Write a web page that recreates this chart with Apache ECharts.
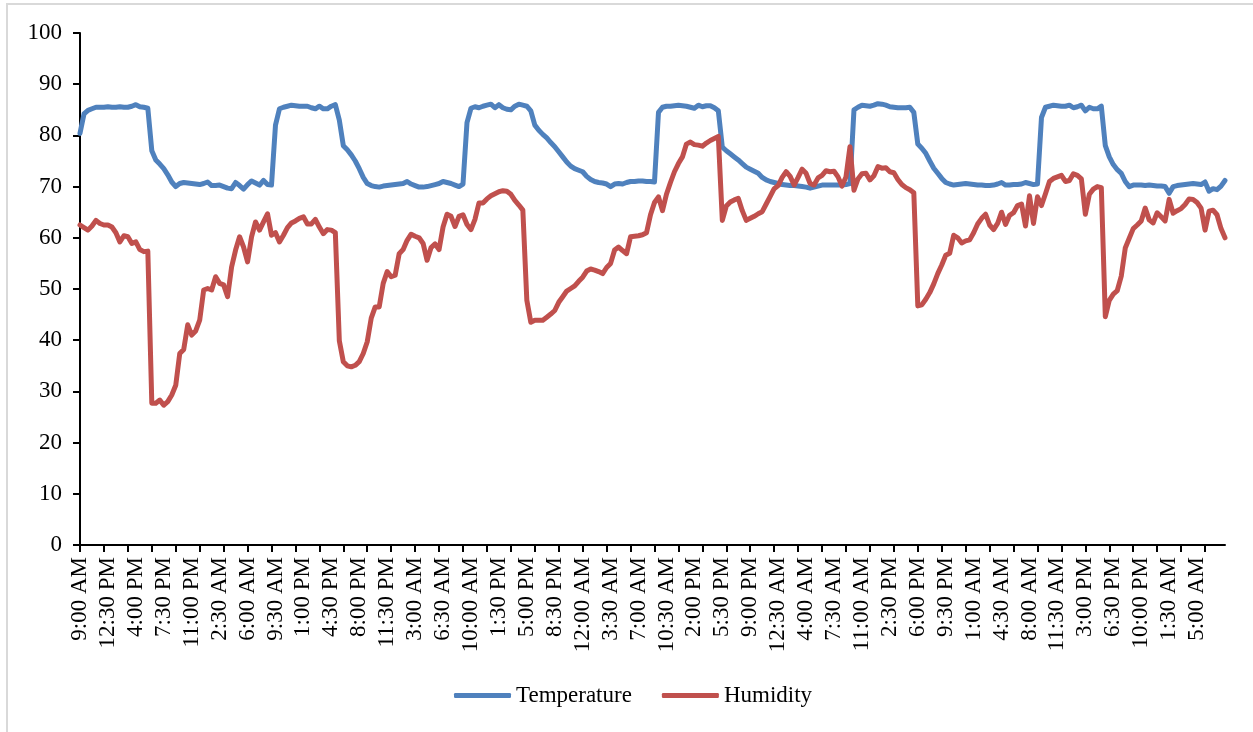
<!DOCTYPE html>
<html>
<head>
<meta charset="utf-8">
<script src="https://cdn.jsdelivr.net/npm/echarts@6/dist/echarts.min.js"></script>
<style>
  html, body { margin: 0; padding: 0; background: #ffffff; }
  #chart { width: 1253px; height: 732px; }
</style>
</head>
<body>
<div id="chart"></div>
<script>
// Half-hourly readings, starting 9:00 AM on day 1 (288 samples = 6 days).
const startMinutes = 9 * 60;
const stepMinutes = 30;

const temperature = [
  80.4, 84.2, 84.9, 85.2, 85.5, 85.5, 85.5, 85.6, 85.5, 85.5, 85.6, 85.5, 85.5, 85.7, 86.0, 85.6, 85.5, 85.3,
  77.0, 75.2, 74.4, 73.5, 72.3, 70.9, 70.0, 70.6, 70.8, 70.7, 70.6, 70.5, 70.4, 70.6, 70.9, 70.2, 70.2, 70.3,
  70.0, 69.7, 69.6, 70.8, 70.2, 69.5, 70.4, 71.1, 70.7, 70.3, 71.2, 70.4, 70.3,
  82.0, 85.2, 85.5, 85.7, 85.9, 85.8, 85.7, 85.7, 85.7, 85.4, 85.2, 85.7, 85.2, 85.2, 85.7, 86.0,
  83.0, 78.0, 77.2, 76.2, 75.0, 73.5, 71.8, 70.6, 70.2, 70.0, 69.9,
  70.1, 70.2, 70.3, 70.4, 70.5, 70.6, 71.0, 70.5, 70.2, 69.9, 69.9, 70.0, 70.2, 70.4, 70.6, 71.0, 70.8, 70.6,
  70.3, 70.0, 70.5,
  82.5, 85.3, 85.6, 85.4, 85.7, 85.9, 86.1, 85.4, 86.0, 85.4, 85.1, 85.0, 85.7, 86.1, 85.9, 85.7, 84.8, 82.0,
  81.0, 80.2, 79.5, 78.6, 77.8, 76.8, 75.8, 74.8, 74.0, 73.5, 73.2, 72.9, 72.0, 71.4, 71.0, 70.8, 70.7, 70.5,
  70.0, 70.5, 70.6, 70.5, 70.8, 71.0, 71.0, 71.1, 71.1, 71.0, 71.0, 70.9,
  84.5, 85.5, 85.7, 85.7, 85.8, 85.9, 85.8, 85.7, 85.5, 85.3, 85.9, 85.6, 85.8, 85.8, 85.4, 84.8,
  77.7, 77.0, 76.4, 75.8, 75.2, 74.5, 73.8, 73.4, 73.0, 72.6, 71.8, 71.3, 71.0, 70.8, 70.6, 70.4, 70.3, 70.2,
  70.2, 70.1, 70.0, 69.9, 69.7, 69.9, 70.1, 70.3, 70.3, 70.3, 70.3, 70.3, 70.3, 70.4, 70.6,
  85.0, 85.5, 85.9, 85.8, 85.7, 85.9, 86.2, 86.1, 85.9, 85.6, 85.5, 85.4, 85.4, 85.4, 85.5, 84.5,
  78.3, 77.5, 76.5, 75.0, 73.6, 72.6, 71.6, 70.8, 70.5, 70.3, 70.4, 70.5, 70.6, 70.5, 70.4, 70.3, 70.3, 70.2,
  70.2, 70.3, 70.5, 70.8, 70.3, 70.3, 70.4, 70.4, 70.5, 70.8, 70.6, 70.4, 70.5,
  83.5, 85.5, 85.7, 85.9, 85.8, 85.7, 85.7, 85.9, 85.4, 85.6, 85.9, 84.8, 85.5, 85.2, 85.2, 85.7,
  78.0, 75.8, 74.3, 73.3, 72.6, 71.0, 70.0, 70.3, 70.3, 70.3, 70.2, 70.3, 70.2, 70.1, 70.1, 70.0, 68.7, 70.0,
  70.2, 70.3, 70.4, 70.5, 70.6, 70.5, 70.4, 70.9, 69.1, 69.6, 69.4, 70.1, 71.2
];

const humidity = [
  62.5, 62.0, 61.5, 62.3, 63.4, 62.8, 62.5, 62.5, 62.1, 61.0, 59.2, 60.4, 60.2, 58.9, 59.2, 57.7, 57.3, 57.4,
  27.7, 27.7, 28.3, 27.3, 28.0, 29.3, 31.2, 37.4, 38.2, 43.0, 41.0, 41.8, 43.9, 49.8, 50.1, 49.8, 52.4, 51.1,
  50.8, 48.5, 54.3, 57.6, 60.2, 58.2, 55.3, 60.2, 63.1, 61.5,
  63.1, 64.7, 60.5, 61.0, 59.2, 60.5, 62.0, 62.9, 63.3, 63.8, 64.1, 62.7, 62.7, 63.6, 62.1, 60.8, 61.6, 61.5, 61.0,
  39.9, 35.8, 35.0, 34.8, 35.1, 35.8, 37.4, 39.7, 44.3, 46.5, 46.5, 51.1, 53.4, 52.4, 52.7, 56.9, 57.7, 59.5,
  60.7, 60.3, 60.0, 58.9, 55.6, 58.1, 58.8, 57.7, 62.1,
  64.6, 64.2, 62.2, 64.2, 64.5, 62.6, 61.6, 63.6, 66.8, 66.8, 67.6, 68.2, 68.6, 69.0, 69.2, 69.1, 68.5, 67.3,
  66.4, 65.4, 47.8, 43.5,
  43.9, 43.9, 43.9, 44.5, 45.1, 45.8, 47.4, 48.5, 49.6, 50.1, 50.6, 51.5, 52.3, 53.5, 53.9, 53.7, 53.4, 53.0,
  54.2, 55.0, 57.6, 58.2, 57.5, 56.9, 60.2, 60.3, 60.4, 60.6, 61.0,
  64.5, 66.9, 68.0, 65.3, 68.5, 70.8, 72.9, 74.5, 75.8, 78.3, 78.7, 78.2, 78.1, 77.9, 78.5, 79.0, 79.4, 79.8,
  63.4, 66.2, 67.0, 67.4, 67.7, 65.3, 63.4, 63.8, 64.2, 64.7, 65.1, 66.6, 68.1, 69.6, 70.2, 71.8, 72.9, 72.0,
  70.3, 71.8, 73.4, 72.6, 70.6, 70.3, 71.7, 72.2, 73.1, 72.9, 73.0, 71.9, 70.1, 71.9, 77.8,
  69.3, 71.5, 72.5, 72.6, 71.3, 72.1, 73.9, 73.6, 73.7, 72.9, 72.7, 71.4, 70.4, 69.8, 69.4, 68.8,
  46.7, 46.9, 48.0, 49.3, 51.0, 53.0, 54.7, 56.6, 57.0, 60.5, 60.0, 59.0, 59.4, 59.6, 61.0, 62.7, 63.8, 64.6,
  62.5, 61.6, 62.8, 65.0, 62.6, 64.4, 64.9, 66.3, 66.6,
  62.3, 68.2, 62.8, 68.0, 66.3, 68.6, 71.0, 71.6, 71.9, 72.2, 71.0, 71.2, 72.5, 72.2, 71.5, 64.6, 68.5, 69.5,
  70.0, 69.8,
  44.6, 47.8, 49.0, 49.7, 52.5, 58.0, 59.9, 61.8, 62.5, 63.3, 65.8, 63.5, 62.9, 64.9, 64.1, 63.3, 67.5, 64.8,
  65.3, 65.7, 66.5, 67.6, 67.5, 66.9, 65.8, 61.5, 65.2, 65.4, 64.5, 61.8, 60.0
];

const seriesNames = ['Temperature', 'Humidity'];
const seriesColors = ['#4F81BD', '#C0504D'];
const yTicks = [0, 10, 20, 30, 40, 50, 60, 70, 80, 90, 100];

// Clock-time category for each sample, e.g. "9:00 AM", "12:30 PM".
function clockLabel(totalMinutes) {
  const m = totalMinutes % (24 * 60);
  const h = Math.floor(m / 60);
  const mm = m % 60;
  const suffix = h < 12 ? 'AM' : 'PM';
  const h12 = h % 12 === 0 ? 12 : h % 12;
  return h12 + ':' + (mm < 10 ? '0' : '') + mm + ' ' + suffix;
}
const categories = temperature.map((_, i) => clockLabel(startMinutes + i * stepMinutes));

const font = "'Liberation Serif', 'Times New Roman', serif";
const chart = echarts.init(document.getElementById('chart'), null, { renderer: 'canvas' });

chart.setOption({
  animation: false,
  backgroundColor: '#ffffff',
  graphic: [{
    type: 'rect',
    shape: { x: 7, y: 4, width: 1300, height: 800 },
    style: { fill: 'none', stroke: '#d9d9d9', lineWidth: 2 },
    silent: true,
    z: 0
  }],
  grid: { left: 80, right: 28, top: 33, bottom: 187, containLabel: false },
  legend: {
    data: seriesNames,
    left: 449,
    top: 679,
    icon: 'roundRect',
    itemWidth: 57,
    itemHeight: 5,
    itemGap: 30,
    textStyle: { fontFamily: font, fontSize: 23, color: '#000000' }
  },
  xAxis: {
    type: 'category',
    data: categories,
    boundaryGap: false,
    axisLine: { lineStyle: { color: '#000000', width: 2 } },
    axisTick: { show: true, interval: 5, length: 7, inside: false, lineStyle: { color: '#000000', width: 2 } },
    axisLabel: {
      interval: 6,
      showMaxLabel: false,
      rotate: 90,
      margin: 12,
      fontFamily: font,
      fontSize: 23,
      color: '#000000'
    },
    splitLine: { show: false }
  },
  yAxis: {
    type: 'value',
    min: yTicks[0],
    max: yTicks[yTicks.length - 1],
    interval: 10,
    axisLine: { show: true, lineStyle: { color: '#000000', width: 2 } },
    axisTick: { show: true, length: 7, lineStyle: { color: '#000000', width: 2 } },
    axisLabel: { margin: 18, fontFamily: font, fontSize: 23, color: '#000000' },
    splitLine: { show: false }
  },
  series: seriesNames.map((name, k) => ({
    name: name,
    type: 'line',
    data: k === 0 ? temperature : humidity,
    symbol: 'none',
    smooth: false,
    color: seriesColors[k],
    itemStyle: { color: seriesColors[k] },
    lineStyle: { color: seriesColors[k], width: 5, cap: 'round', join: 'round' },
    z: 2 + k
  }))
});
</script>
</body>
</html>
